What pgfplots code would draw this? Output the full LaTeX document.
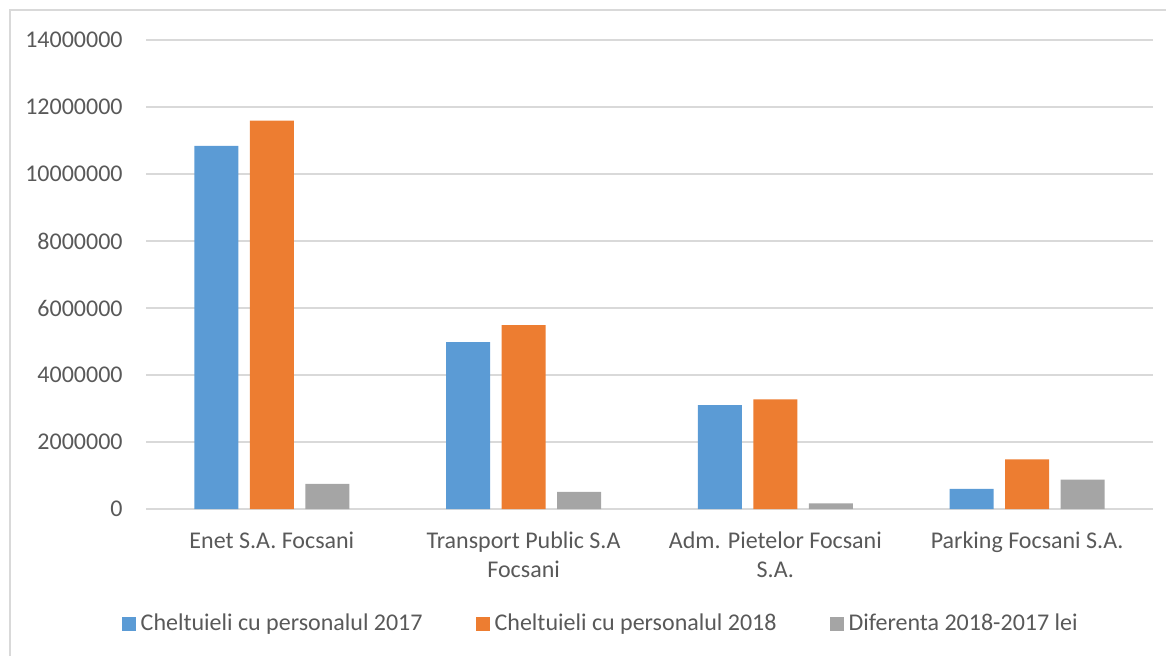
\documentclass[border=0pt]{standalone}
\usepackage{fontspec}
\setmainfont{Carlito}
\usepackage{pgfplots}
\pgfplotsset{compat=1.18}
\definecolor{cblue}{HTML}{5B9BD5}
\definecolor{corange}{HTML}{ED7D31}
\definecolor{cgray}{HTML}{A5A5A5}
\definecolor{ctext}{HTML}{595959}
\definecolor{cgrid}{HTML}{D9D9D9}
\begin{document}
\begin{tikzpicture}
\useasboundingbox (0pt,0pt) rectangle (583pt,-327.5pt);
\draw[cgrid, line width=0.75pt] (5pt,-340pt) -- (5pt,-5pt) -- (600pt,-5pt);
\begin{axis}[
  at={(73pt,-254.5pt)}, anchor=south west,
  scale only axis, width=503.5pt, height=234.5pt,
  ybar, bar width=22pt, ybar=5.75pt,
  ymin=0, ymax=14000000, ytick={0,2000000,...,14000000},
  xmin=-0.5, xmax=3.5, xtick={0,1,2,3},
  xticklabels={Enet S.A. Focsani,{Transport Public S.A\\Focsani},{Adm. Pietelor Focsani\\S.A.},Parking Focsani S.A.},
  scaled y ticks=false,
  /pgf/number format/fixed, /pgf/number format/precision=0,
  /pgf/number format/1000 sep={}, /pgf/number format/assume math mode=true,
  axis line style={draw=none},
  tick style={draw=none},
  ymajorgrids, grid style={cgrid, line width=0.75pt},
  tick label style={font=\fontsize{12}{14.5}\selectfont, text=ctext},
  yticklabel style={inner xsep=0pt, xshift=-11.5pt},
  xticklabel style={align=center, yshift=-3.5pt},
  legend style={at={(0.453,-0.245)}, anchor=center, draw=none, legend columns=3,
    font=\fontsize{12}{14.5}\selectfont, text=ctext,
    /tikz/every even column/.append style={column sep=24pt},
    nodes={inner xsep=2.5pt}},
  legend image code/.code={\fill[#1] (0pt,-3.5pt) rectangle (7pt,3.5pt);},
]
\addplot[fill=cblue, draw=none] coordinates {(0,10840000) (1,4980000) (2,3100000) (3,600000)};
\addplot[fill=corange, draw=none] coordinates {(0,11590000) (1,5490000) (2,3270000) (3,1480000)};
\addplot[fill=cgray, draw=none] coordinates {(0,750000) (1,510000) (2,170000) (3,880000)};
\legend{Cheltuieli cu personalul 2017, Cheltuieli cu personalul 2018, Diferenta 2018-2017 lei}
\end{axis}
\end{tikzpicture}
\end{document}
